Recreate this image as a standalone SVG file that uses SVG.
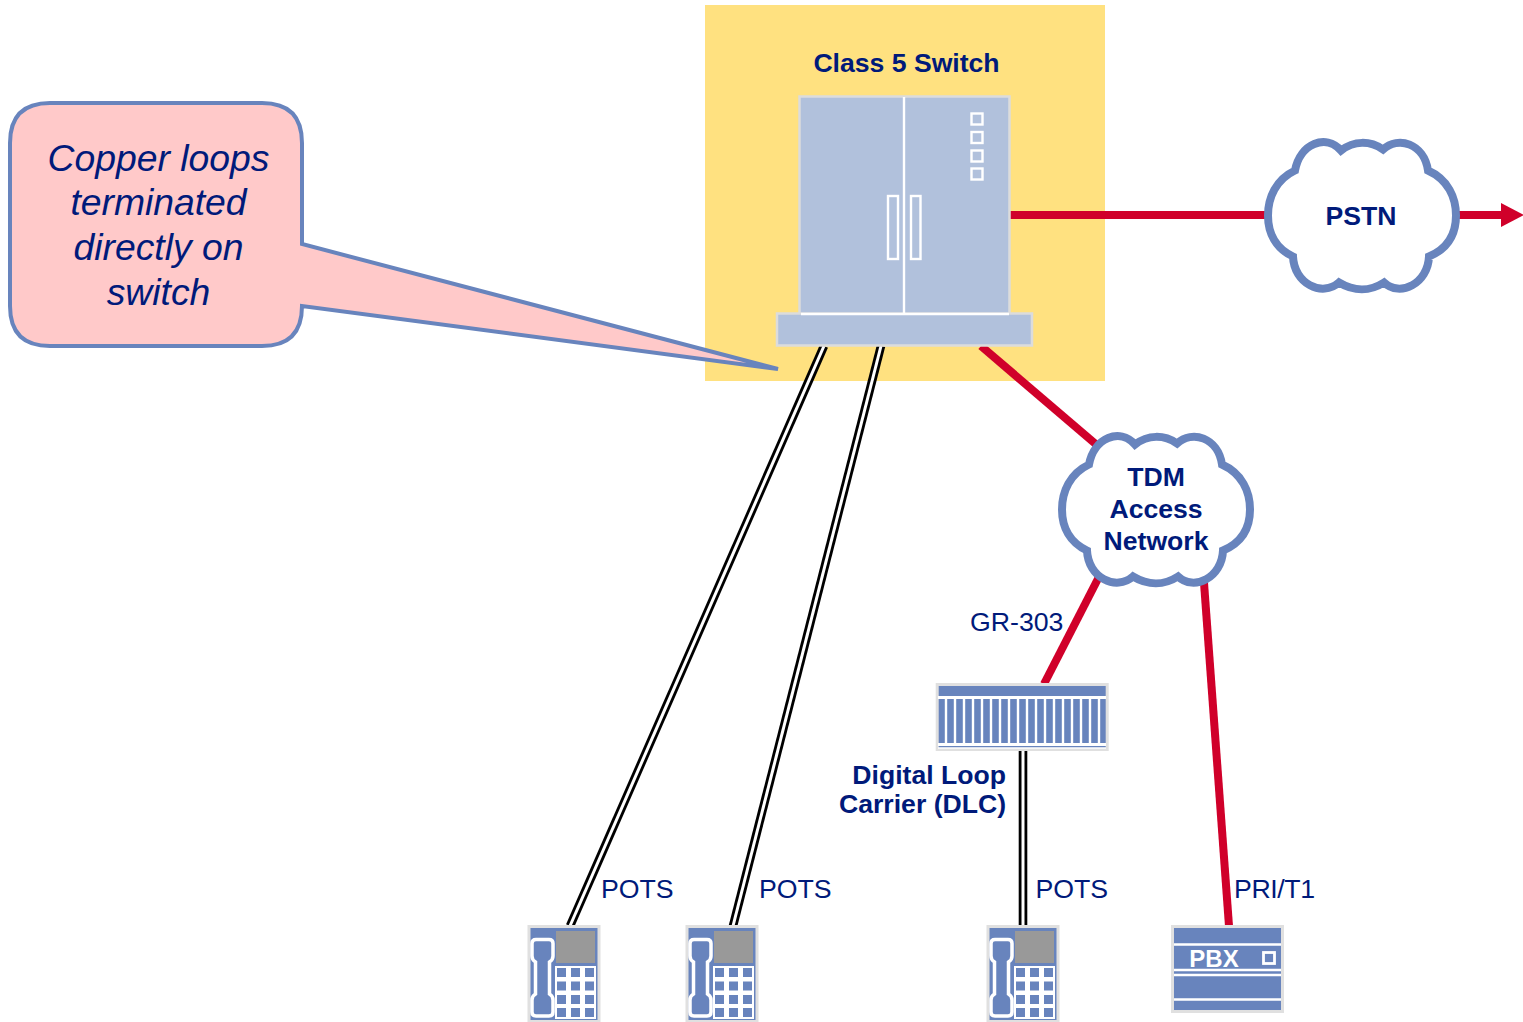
<svg xmlns="http://www.w3.org/2000/svg" width="1523" height="1022" viewBox="0 0 1523 1022">
<style>
text{font-family:"Liberation Sans",Arial,sans-serif;fill:#001a7a}
.b{font-weight:700;font-size:26.6px;text-anchor:middle}
.r{font-size:26.7px}
.i{font-style:italic;font-size:37.3px;text-anchor:middle}
.red{stroke:#d0002a;stroke-width:8;fill:none}
.blk{stroke:#000;stroke-width:8.6;fill:none}
.wht{stroke:#fff;stroke-width:3;fill:none}
.cloud{fill:#fff;stroke:#6884bd;stroke-width:8}
.w{fill:none;stroke:#fff;stroke-width:2.4}
.box{fill:#6884bd;stroke:#e0e0e0;stroke-width:3}
.sw{fill:#b1c1dc;stroke:#dcdcdc;stroke-width:2.5}
</style>
<defs>
<path id="cl" d="M-67,-45 C-62,-72 -36,-82 -21,-65 C-8,-75 8,-75 21,-66 C36,-80 62,-72 66,-45 C86,-36 94,-18 94,0 C94,18 86,33 67,41 C66,68 38,82 22,67 C8,76 -8,76 -23,67 C-40,82 -68,68 -69,41 C-86,33 -94,18 -94,0 C-94,-18 -86,-36 -67,-45 Z"/>
<g id="phone">
<rect class="box" x="2" y="1.500" width="70" height="95"/>
<rect x="29" y="6" width="39" height="32" fill="#999"/>
<rect x="28" y="41" width="41" height="53" fill="#fff"/>
<path fill="#6884bd" d="M30,43h9v9h-9z M44,43h9v9h-9z M58,43h9v9h-9z M30,56.500h9v9h-9z M44,56.500h9v9h-9z M58,56.500h9v9h-9z M30,70h9v9h-9z M44,70h9v9h-9z M58,70h9v9h-9z M30,83h9v9h-9z M44,83h9v9h-9z M58,83h9v9h-9z"/>
<path d="M9,14.500 H22 Q26,14.500 26,18.500 V31 Q26,35 22.500,37 V69 Q26,71 26,75 V87 Q26,91 22,91 H9 Q5,91 5,87 V75 Q5,71 8.500,69 V37 Q5,35 5,31 V18.500 Q5,14.500 9,14.500 Z" fill="#6884bd" stroke="#fff" stroke-width="3.500"/>
</g>
</defs>

<g id="switch-zone"><rect x="705" y="5" width="400" height="376" fill="#ffe180"/></g>

<g id="connectors">
<path class="red" d="M1005,215 H1275"/>
<path class="red" d="M1450,215 H1502"/>
<polygon points="1501,203 1524,215 1501,227" fill="#d0002a"/>
<path class="red" d="M981,346 L1105,452"/>
<path class="red" d="M1103,569 L1044,684"/>
<path class="red" d="M1203,569 L1229,926"/>
<path class="blk" d="M824,346 L570,926"/><path class="wht" d="M824,346 L570,926"/>
<path class="blk" d="M881,346 L733,926"/><path class="wht" d="M881,346 L733,926"/>
<path class="blk" d="M1023,750 V926"/><path class="wht" d="M1023,750 V926"/>
</g>

<g id="callout">
<path d="M50,103 H262 Q302,103 302,143 V244 L778,369 L302,306 Q302,346 262,346 H50 Q10,346 10,306 V143 Q10,103 50,103 Z" fill="#ffc9c9" stroke="#6884bd" stroke-width="4"/>
<text class="i" x="158.500" y="171">Copper loops</text>
<text class="i" x="158.500" y="215">terminated</text>
<text class="i" x="158.500" y="260">directly on</text>
<text class="i" x="158.500" y="305">switch</text>
</g>

<g id="class5-switch">
<text class="b" x="906.500" y="71.500">Class 5 Switch</text>
<rect class="sw" x="799.500" y="96.500" width="210" height="218"/>
<rect class="sw" x="777" y="313.500" width="255" height="32"/>
<path class="w" d="M801,314 H1009 M904,97 V315"/>
<rect class="w" x="888" y="196" width="10" height="63"/>
<rect class="w" x="911" y="196" width="9.500" height="63"/>
<rect class="w" x="971.500" y="113.500" width="11" height="11"/>
<rect class="w" x="971.500" y="132" width="11" height="11"/>
<rect class="w" x="971.500" y="150.500" width="11" height="11"/>
<rect class="w" x="971.500" y="168.500" width="11" height="11"/>
</g>

<g id="pstn">
<use href="#cl" class="cloud" transform="translate(1362 215.500)"/>
<text class="b" x="1361" y="224.500">PSTN</text>
</g>

<g id="tdm">
<use href="#cl" class="cloud" transform="translate(1156 509.500)"/>
<text class="b" x="1156" y="486">TDM</text>
<text class="b" x="1156" y="518">Access</text>
<text class="b" x="1156" y="550">Network</text>
</g>

<g id="dlc">
<rect class="box" x="937.200" y="684.500" width="170" height="65"/>
<path stroke="#fff" stroke-width="3" d="M938,697.500 H1106 M938,744.500 H1106"/>
<path stroke="#fff" stroke-width="1.500" d="M938,748 H1106"/>
<path stroke="#fff" stroke-width="2.400" d="M946,698 V744 M955,698 V744 M964,698 V744 M973,698 V744 M982,698 V744 M991,698 V744 M1000,698 V744 M1009,698 V744 M1018,698 V744 M1027,698 V744 M1036,698 V744 M1045,698 V744 M1054,698 V744 M1063,698 V744 M1072,698 V744 M1081,698 V744 M1090,698 V744 M1099,698 V744"/>
<text class="b" x="1006" y="784" style="text-anchor:end">Digital Loop</text>
<text class="b" x="1006" y="812.500" style="text-anchor:end">Carrier (DLC)</text>
</g>

<g id="phone1" transform="translate(527 925)"><use href="#phone"/></g>
<g id="phone2" transform="translate(685 925)"><use href="#phone"/></g>
<g id="phone3" transform="translate(986 925)"><use href="#phone"/></g>

<g id="pbx">
<rect class="box" x="1172.500" y="926.500" width="110" height="85"/>
<path stroke="#fff" stroke-width="2.400" d="M1174,944.500 H1281 M1174,970 H1281 M1174,975 H1281 M1174,999.500 H1281"/>
<rect x="1263.500" y="952.500" width="11" height="11" fill="none" stroke="#fff" stroke-width="2.800"/>
<text x="1214" y="967" style="fill:#fff;font-weight:700;font-size:24px;text-anchor:middle">PBX</text>
</g>

<g id="labels">
<text class="r" x="970" y="630.500">GR-303</text>
<text class="r" x="601" y="897.500">POTS</text>
<text class="r" x="759" y="897.500">POTS</text>
<text class="r" x="1035.500" y="897.500">POTS</text>
<text class="r" x="1234" y="897.500" textLength="81">PRI/T1</text>
</g>
</svg>
